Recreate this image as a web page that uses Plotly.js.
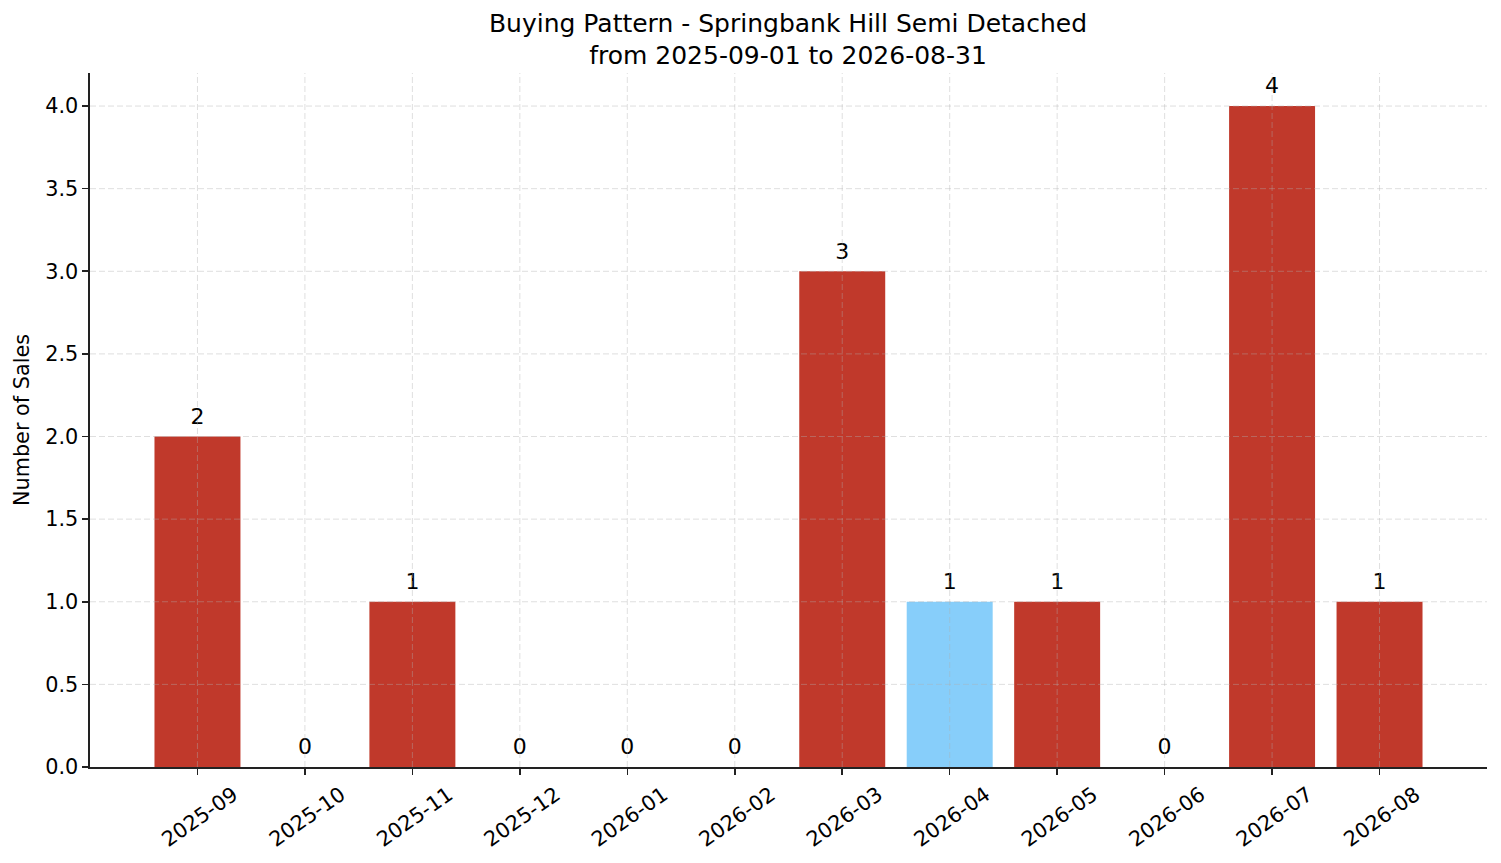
<!DOCTYPE html>
<html>
<head>
<meta charset="utf-8">
<script src="https://cdn.plot.ly/plotly-3.0.1.min.js"></script>
<style>
	html, body { margin: 0; padding: 0; background: #fff; }
	#chart { width: 1501px; height: 863px; }
</style>
</head>
<body>
<div id="chart"></div>
<script>
	"use strict";

	// monthly sales counts
	const months = ["2025-09", "2025-10", "2025-11", "2025-12", "2026-01", "2026-02",
		"2026-03", "2026-04", "2026-05", "2026-06", "2026-07", "2026-08"];
	const sales = [2, 0, 1, 0, 0, 0, 3, 1, 1, 0, 4, 1];
	const highlightMonth = "2026-04";
	const yTicks = [0, 0.5, 1, 1.5, 2, 2.5, 3, 3.5, 4];

	const RED = "#c0392b";
	const BLUE = "#87cefa";
	const FONT = "DejaVu Sans, sans-serif";
	const GRID = { color: "rgba(176,176,176,0.5)", width: 0.8, dash: "6px,3px" };

	const barColors = months.map(m => (m === highlightMonth ? BLUE : RED));

	const bars = {
		type: "bar",
		x: months,
		y: sales,
		width: 0.8,
		marker: { color: barColors, line: { width: 0 } },
		hoverinfo: "x+y",
		showlegend: false,
	};

	// count labels above each bar; the invisible marker pushes the text up a bit
	const labels = {
		type: "scatter",
		mode: "markers+text",
		x: months,
		y: sales,
		text: sales.map(String),
		textposition: "top center",
		textfont: { family: FONT, size: 22, color: "#000" },
		marker: { size: 10, opacity: 0 },
		hoverinfo: "skip",
		showlegend: false,
		cliponaxis: false,
	};

	// the grid sits on top of the bars in the reference, so draw it as shapes
	const gridShapes = [];
	for (const m of months) {
		gridShapes.push({
			type: "line", layer: "above", xref: "x", yref: "paper",
			x0: m, x1: m, y0: 0, y1: 1, line: GRID,
		});
	}
	for (const t of yTicks) {
		if (t === 0) continue;
		gridShapes.push({
			type: "line", layer: "above", xref: "paper", yref: "y",
			x0: 0, x1: 1, y0: t, y1: t, line: GRID,
		});
	}

	const axisCommon = {
		showline: true,
		linecolor: "#222",
		linewidth: 1.6,
		ticks: "outside",
		ticklen: 6,
		tickwidth: 1.6,
		tickcolor: "#222",
		showgrid: false,
		zeroline: false,
		tickfont: { family: FONT, size: 20.8, color: "#000" },
	};

	const layout = {
		width: 1501,
		height: 863,
		margin: { l: 90, r: 14, t: 73, b: 96 },
		paper_bgcolor: "#fff",
		plot_bgcolor: "#fff",
		title: {
			text: "Buying Pattern - Springbank Hill Semi Detached<br>from 2025-09-01 to 2026-08-31",
			font: { family: FONT, size: 25, color: "#000", lineposition: "none" },
			x: 788 / 1501,
			xanchor: "center",
			xref: "container",
			y: 0.963,
			yanchor: "middle",
			yref: "container",
		},
		xaxis: Object.assign({}, axisCommon, {
			type: "category",
			range: [-1, 12],
			tickangle: -35,
			ticklabelshift: 36,
			ticklabelstandoff: 0,
		}),
		yaxis: Object.assign({}, axisCommon, {
			range: [0, 4.2],
			tickvals: yTicks,
			ticktext: yTicks.map(v => v.toFixed(1)),
			title: { text: "Number of Sales", font: { family: FONT, size: 20.8, color: "#000" }, standoff: 10 },
		}),
		shapes: gridShapes,
		bargap: 0.2,
	};

	Plotly.newPlot("chart", [bars, labels], layout, { displayModeBar: false, staticPlot: true });
</script>
</body>
</html>
